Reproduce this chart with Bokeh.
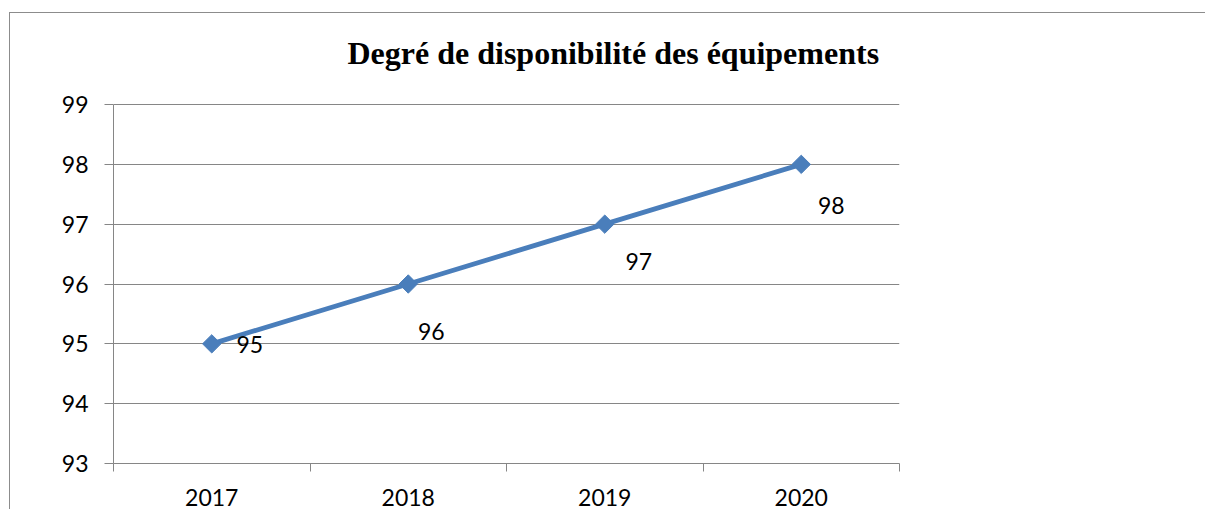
import numpy as np
from bokeh.plotting import figure
from bokeh.models import (FixedTicker, ColumnDataSource, Range1d, CustomJSTickFormatter)
from bokeh.core.properties import value
from bokeh.embed import file_html
from bokeh.resources import INLINE

# ---- data ----
years = ["2017", "2018", "2019", "2020"]
values = [95, 96, 97, 98]
y_ticks = [93, 94, 95, 96, 97, 98, 99]
title_text = "Degré de disponibilité des équipements"

# label placement offsets in pixels (style)
label_dx = [38, 23, 34, 30]
label_dy = [1, 47, 37, 41]

GRAY = "#868686"
BLUE = "#4a7ebb"
FONT = "Lato"

# ---- layout (pixels) ----
W, H = 1196, 497
B_LEFT, B_RIGHT, B_TOP, B_BOTTOM = 103, 307, 7, 47
AXIS_SPAN_PX = 359          # pixel height from lowest to highest y tick
frame_h = H - B_TOP - B_BOTTOM
y_lo, y_hi = min(y_ticks), max(y_ticks)
y_end = y_lo + frame_h * (y_hi - y_lo) / AXIS_SPAN_PX   # room above plot for the title

xs = [i + 0.5 for i in range(len(years))]
src = ColumnDataSource(dict(x=xs, y=values, label=[str(v) for v in values],
                            dx=label_dx, dy=label_dy))

p = figure(width=W, height=H, output_backend="svg", toolbar_location=None,
           x_range=Range1d(0, len(years)), y_range=Range1d(y_lo, y_end),
           min_border_left=B_LEFT, min_border_right=B_RIGHT,
           min_border_top=B_TOP, min_border_bottom=B_BOTTOM)
p.styles = {"margin-left": "9px", "margin-top": "12px",
            "border-left": "1px solid #8c8c8c", "border-top": "1px solid #8c8c8c"}
p.outline_line_color = None
p.background_fill_color = "white"
p.border_fill_color = "white"

# x axis: labels at centres, ticks at boundaries
xa = p.xaxis[0]
xa.ticker = FixedTicker(ticks=xs, minor_ticks=list(range(len(years) + 1)))
xa.formatter = CustomJSTickFormatter(args=dict(labels=years),
                                     code="const i = Math.floor(tick); return labels[i] || '';")
xa.axis_line_color = GRAY
xa.axis_line_width = 1
xa.major_tick_in = 0
xa.major_tick_out = 0
xa.minor_tick_in = 0
xa.minor_tick_out = 8
xa.minor_tick_line_color = GRAY
xa.major_label_text_font = FONT
xa.major_label_text_font_size = "23px"
xa.major_label_text_color = "black"
xa.major_label_standoff = 17

ya = p.yaxis[0]
ya.ticker = FixedTicker(ticks=y_ticks)
ya.bounds = (y_lo, y_hi)
ya.axis_line_color = GRAY
ya.major_tick_in = 0
ya.major_tick_out = 9
ya.major_tick_line_color = GRAY
ya.minor_tick_out = 0
ya.minor_tick_in = 0
ya.major_label_text_font = FONT
ya.major_label_text_font_size = "23px"
ya.major_label_text_color = "black"
ya.major_label_standoff = 16

p.xgrid.visible = False
p.ygrid.ticker = FixedTicker(ticks=y_ticks)
p.ygrid.grid_line_color = GRAY
p.ygrid.grid_line_width = 1

p.line("x", "y", source=src, line_color=BLUE, line_width=4.8)
p.scatter("x", "y", source=src, marker="square", size=13, angle=np.pi / 4,
          fill_color=BLUE, line_color=BLUE)
p.text("x", "y", text="label", source=src, x_offset="dx", y_offset="dy",
       text_font=value(FONT), text_font_size="23px", text_align="center",
       text_baseline="middle", text_color="black")

# chart title, anchored to the top-left corner of the plotting area
p.text(x=[0], y=[y_end], text=[title_text], x_offset=234, y_offset=32,
       text_font=value("Liberation Serif"), text_font_size="32px",
       text_font_style="bold", text_color="black",
       text_align="left", text_baseline="alphabetic")

open("out.html", "w").write(file_html(p, INLINE))
